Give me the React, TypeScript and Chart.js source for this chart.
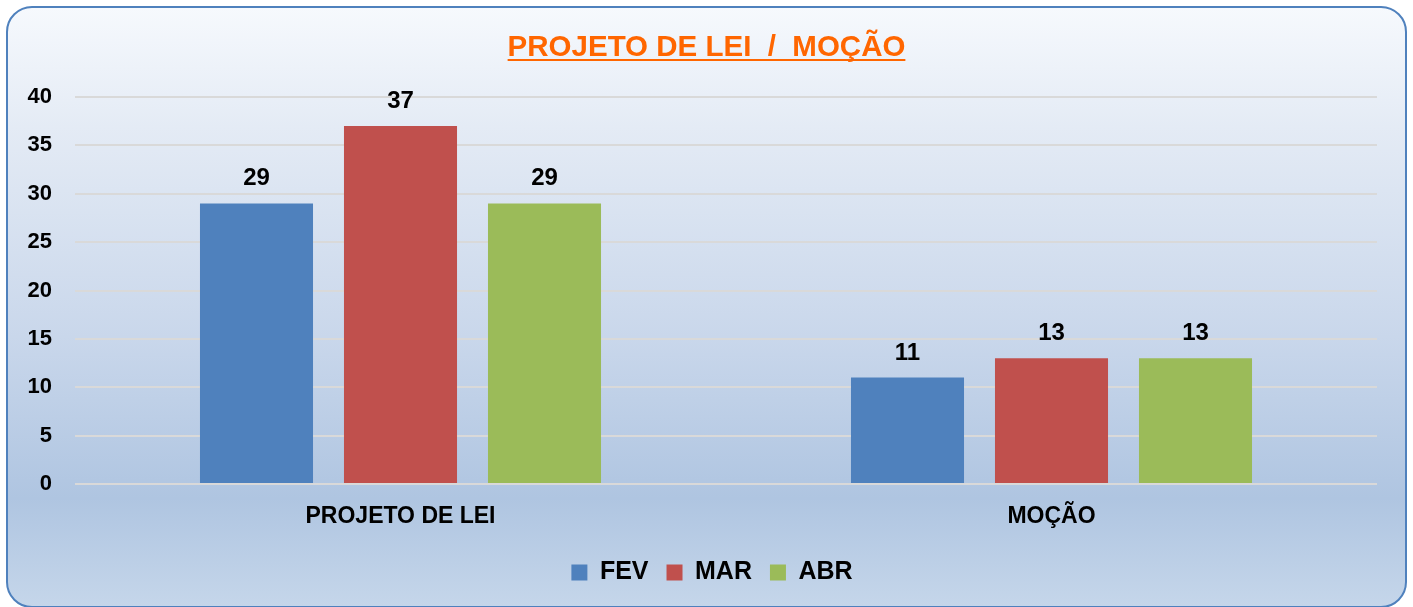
import React, { useEffect, useRef } from 'react';
import { Chart, registerables } from 'chart.js';

Chart.register(...registerables);

const categories = ['PROJETO DE LEI', 'MOÇÃO'];
const seriesNames = ['FEV', 'MAR', 'ABR'];
const fevValues = [29, 11];
const marValues = [37, 13];
const abrValues = [29, 13];
const seriesColors = ['#4F81BD', '#C0504D', '#9BBB59'];
const yMin = 0;
const yMax = 40;
const yStep = 5;
const titleText = 'PROJETO DE LEI  /  MOÇÃO';

const FONT = '"Liberation Sans", Arial, Helvetica, sans-serif';

const titlePlugin = {
  id: 'underlinedTitle',
  afterDraw(chart: any) {
    const ctx = chart.ctx;
    ctx.save();
    ctx.font = `bold 29.5px ${FONT}`;
    ctx.fillStyle = '#FF6600';
    ctx.textAlign = 'center';
    ctx.textBaseline = 'alphabetic';
    const cx = chart.width / 2;
    ctx.fillText(titleText, cx, 56);
    const w = ctx.measureText(titleText).width;
    ctx.fillRect(cx - w / 2, 59, w, 2);
    ctx.restore();
  },
};

const valueLabelPlugin = {
  id: 'valueLabels',
  afterDatasetsDraw(chart: any) {
    const ctx = chart.ctx;
    ctx.save();
    ctx.font = `bold 24px ${FONT}`;
    ctx.fillStyle = '#000000';
    ctx.textAlign = 'center';
    ctx.textBaseline = 'alphabetic';
    chart.data.datasets.forEach((ds: any, i: number) => {
      const meta = chart.getDatasetMeta(i);
      meta.data.forEach((bar: any, j: number) => {
        ctx.fillText(String(ds.data[j]), bar.x, bar.y - 18);
      });
    });
    ctx.restore();
  },
};

// Shift the legend's left bound so it centres where the reference legend sits
const legendShiftPlugin = {
  id: 'legendShift',
  afterLayout(chart: any) {
    if (chart.legend) chart.legend.left = 47;
  },
};

export default function App() {
  const canvasRef = useRef<HTMLCanvasElement | null>(null);

  useEffect(() => {
    if (!canvasRef.current) return;
    const seriesValues = [fevValues, marValues, abrValues];
    const chart = new Chart(canvasRef.current, {
      type: 'bar',
      data: {
        labels: categories,
        datasets: seriesNames.map((name, i) => ({
          label: name,
          data: seriesValues[i],
          backgroundColor: seriesColors[i],
          borderWidth: 0,
          categoryPercentage: 0.6636,
          barPercentage: 0.785,
        })),
      },
      options: {
        animation: false,
        responsive: true,
        maintainAspectRatio: false,
        layout: { padding: { top: 97, left: 20, right: 36, bottom: 12 } },
        plugins: {
          title: { display: false },
          tooltip: { enabled: false },
          legend: {
            display: true,
            position: 'bottom',
            labels: {
              boxWidth: 16,
              boxHeight: 16,
              padding: 18,
              color: '#000000',
              font: { family: FONT, size: 25, weight: 'bold' },
            },
          },
        },
        scales: {
          x: {
            grid: { display: false },
            border: { display: false },
            ticks: {
              color: '#000000',
              padding: 11,
              font: { family: FONT, size: 23, weight: 'bold' },
            },
            afterFit(scale: any) {
              scale.height = 58;
            },
          },
          y: {
            min: yMin,
            max: yMax,
            ticks: {
              stepSize: yStep,
              padding: 23,
              color: '#000000',
              font: { family: FONT, size: 22, weight: 'bold' },
            },
            grid: { color: '#D9D9D9', lineWidth: 2, drawTicks: false },
            border: { display: false },
            afterFit(scale: any) {
              scale.width = 55;
            },
          },
        },
      },
      plugins: [titlePlugin, valueLabelPlugin, legendShiftPlugin],
    });
    return () => chart.destroy();
  }, []);

  return (
    <div style={{ position: 'fixed', left: 0, top: 0, width: 1413, height: 607 }}>
      <div
        style={{
          position: 'absolute',
          left: 6,
          top: 6,
          width: 1401,
          height: 602,
          boxSizing: 'border-box',
          border: '2px solid #4F81BD',
          borderRadius: 26,
          background:
            'linear-gradient(to bottom, #F6F9FD 0%, #E4EBF5 20%, #C9D7EB 55%, #AFC5E1 82%, #C5D6EA 100%)',
        }}
      />
      <div style={{ position: 'absolute', left: 0, top: 0, width: 1413, height: 607 }}>
        <canvas ref={canvasRef} />
      </div>
    </div>
  );
}
